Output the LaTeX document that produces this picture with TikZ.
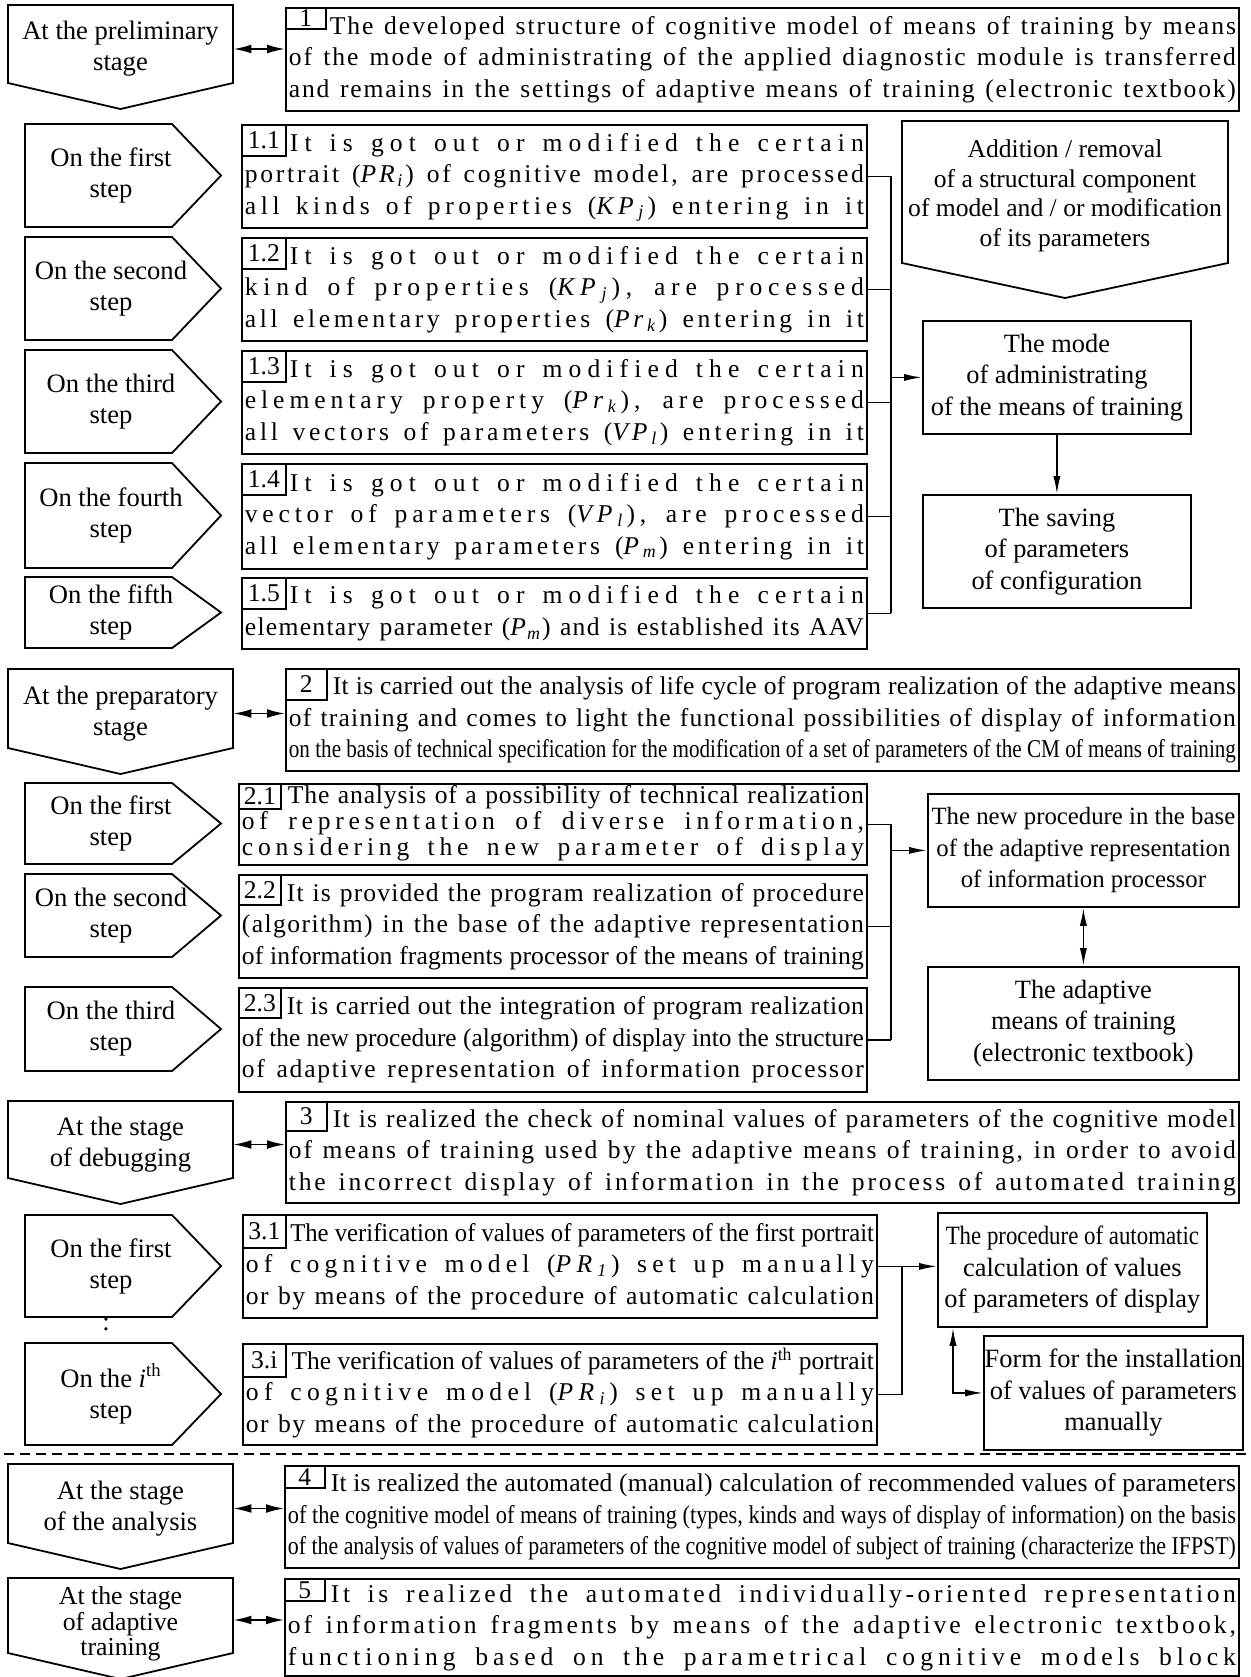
\documentclass[tikz,border=0pt]{standalone}
\usepackage{fontspec}
\setmainfont{Liberation Serif}
\usepackage{graphicx}
\usetikzlibrary{arrows.meta}

\def\stgLeft{4}
\def\stgWidth{112.5}
\def\stgTip{13}
\def\stpLeft{12.5}
\def\stpWidth{73.5}
\def\stpTip{24.5}

\newcommand\bodyfont{\fontsize{12.8}{15.75}\selectfont}
\newcommand\tightfont{\fontsize{12.8}{13}\selectfont}
\newcommand\labelfont{\fontsize{13.3}{15.5}\selectfont}
\newcommand\tightlabelfont{\fontsize{12.9}{12.9}\selectfont}
\newcommand\sidefont{\fontsize{13.2}{15.75}\selectfont}
\newcommand\smallsidefont{\fontsize{12.4}{15.75}\selectfont}

%% one line of a text box, always as wide as the box
\newsavebox\jlbox
\newlength\jlnat
\newlength\jlten
\newlength\jlavail
\newcommand\jl[1]{%
  \spaceskip=0pt\xspaceskip=0pt
  \sbox\jlbox{#1}\setlength\jlnat{\wd\jlbox}\setlength\jlavail{\hsize}%
  \ifdim\jlnat>\jlavail
    \scalebox{\fpeval{\jlavail/\jlnat}}[1]{\usebox\jlbox}%
  \else
    \sbox\jlbox{\addfontfeatures{LetterSpace=10}#1}\setlength\jlten{\wd\jlbox}%
    \edef\jlls{\fpeval{trunc(8.2*(\jlavail-\jlnat)/(\jlten-\jlnat),2)}}%
    \makebox[\jlavail][s]{\addfontfeatures{LetterSpace=\jlls}#1}%
  \fi\strut}
\newcommand\sym[2]{\textit{#1}\textsubscript{\textit{#2}}}

\tikzset{
  shapeline/.style={line width=0.9pt},
  txtbox/.style={draw, line width=0.9pt, anchor=north west, inner xsep=1.5pt,
    inner ysep=0pt, align=left, font=\bodyfont},
  numbox/.style={draw, line width=0.8pt, anchor=north west, inner sep=0pt,
    font=\bodyfont, text height=8.6pt, text depth=0pt},
  stagelabel/.style={align=center, font=\labelfont, inner sep=2pt,
    minimum width=\stgWidth pt},
  steplabel/.style={align=center, font=\labelfont, inner sep=1pt},
  sidebox/.style={draw, line width=0.9pt, anchor=north west, align=center,
    font=\sidefont, inner sep=0pt},
  wire/.style={line width=0.8pt},
  flowarrow/.style={wire, -{Latex[length=9pt,width=3.6pt]}},
  dblarrow/.style={wire, {Latex[length=9pt,width=3.6pt]}-{Latex[length=9pt,width=3.6pt]}},
  stagearrow/.style={wire, {Latex[length=9pt,width=4.4pt]}-{Latex[length=9pt,width=4.4pt]}},
  sepline/.style={line width=0.7pt, dash pattern=on 5pt off 3pt},
}

\begin{document}
\begin{tikzpicture}[x=1pt,y=-1pt]
  \useasboundingbox (0,0) rectangle (625,838.5);

  %% stages
  \foreach \nm/\y/\h/\txt in {
    s1/2.5/39/{At the preliminary\\stage},
    s2/334.5/39.5/{At the preparatory\\stage},
    s3/550.5/38.5/{At the stage\\of debugging},
    s4/732/39.5/{At the stage\\of the analysis}} {
    \draw[shapeline] (\stgLeft,\y) -- ++(\stgWidth,0) -- ++(0,\h)
      -- ++({-\stgWidth/2},\stgTip) -- ++({-\stgWidth/2},-\stgTip) -- cycle;
    \node[stagelabel] (\nm) at ({\stgLeft+\stgWidth/2},{\y+\h/2+2.5}) {\txt};
  }
  \draw[shapeline] (\stgLeft,789) -- ++(\stgWidth,0) -- ++(0,37.5)
    -- ++({-\stgWidth/2},\stgTip) -- ++({-\stgWidth/2},-\stgTip) -- cycle;
  \node[stagelabel, font=\tightlabelfont] (s5) at ({\stgLeft+\stgWidth/2},812)
    {At the stage\\of adaptive\\training};
  \coordinate (s5e) at ([yshift=2pt]s5.east);

  %% steps
  \foreach \nm/\y/\h/\txt in {
    p11/62/51.5/{On the first\\step},
    p12/118.5/51.5/{On the second\\step},
    p13/175/51.5/{On the third\\step},
    p14/231.5/52.5/{On the fourth\\step},
    p15/288.5/35.5/{On the fifth\\step},
    p21/391.5/40.5/{On the first\\step},
    p22/437/41.5/{On the second\\step},
    p23/493.5/42/{On the third\\step},
    p31/607.5/51/{On the first\\step},
    p3i/671.5/51/{On the \textit{i}\textsuperscript{th}\\step}} {
    \draw[shapeline] (\stpLeft,\y) -- ++(\stpWidth,0) -- ++(\stpTip,{\h/2})
      -- ++(-\stpTip,{\h/2}) -- ++(-\stpWidth,0) -- cycle;
    \node[steplabel] (\nm) at (55.5,{\y+\h/2}) {\txt};
  }
  \node[font=\labelfont, inner sep=0pt] (dots) at (53,662) {:};

  %% stage 1
  \node[txtbox, text width=473.5pt, minimum height=51.5pt] (t1) at (142.5,3.5) {%
    \jl{\hspace*{20.5pt}The developed structure of cognitive model of means of training by means}\\
    \jl{of the mode of administrating of the applied diagnostic module is transferred}\\
    \jl{and remains in the settings of adaptive means of training (electronic textbook)}};
  \node[numbox, minimum width=20pt, minimum height=10.5pt] (n1) at (t1.north west) {1};

  \node[txtbox, text width=309.5pt, minimum height=51.5pt] (t11) at (120.5,62) {%
    \jl{\hspace*{22.5pt}It is got out or modified the certain}\\
    \jl{portrait (\sym{PR}{i}) of cognitive model, are processed}\\
    \jl{all kinds of properties (\sym{KP}{j}) entering in it}};
  \node[txtbox, text width=309.5pt, minimum height=51.5pt] (t12) at (120.5,118.5) {%
    \jl{\hspace*{22.5pt}It is got out or modified the certain}\\
    \jl{kind of properties (\sym{KP}{j}), are processed}\\
    \jl{all elementary properties (\sym{Pr}{k}) entering in it}};
  \node[txtbox, text width=309.5pt, minimum height=51.5pt] (t13) at (120.5,175) {%
    \jl{\hspace*{22.5pt}It is got out or modified the certain}\\
    \jl{elementary property (\sym{Pr}{k}), are processed}\\
    \jl{all vectors of parameters (\sym{VP}{l}) entering in it}};
  \node[txtbox, text width=309.5pt, minimum height=52.5pt] (t14) at (120.5,231.5) {%
    \jl{\hspace*{22.5pt}It is got out or modified the certain}\\
    \jl{vector of parameters (\sym{VP}{l}), are processed}\\
    \jl{all elementary parameters (\sym{P}{m}) entering in it}};
  \node[txtbox, text width=309.5pt, minimum height=35.5pt] (t15) at (120.5,288.5) {%
    \jl{\hspace*{22.5pt}It is got out or modified the certain}\\
    \jl{elementary parameter (\sym{P}{m}) and is established its AAV}};
  \foreach \t/\n in {t11/1.1,t12/1.2,t13/1.3,t14/1.4,t15/1.5}
    \node[numbox, minimum width=22pt, minimum height=15.5pt] at (\t.north west) {\n};

  \node[sidebox, minimum width=134pt, minimum height=56.5pt] (mode) at (461,160)
    {The mode\\of administrating\\of the means of training};
  \node[sidebox, minimum width=134pt, minimum height=56.5pt] (saving) at (461,247)
    {The saving\\of parameters\\of configuration};
  \draw[shapeline] (451,60.5) -- ++(163,0) -- ++(0,71) -- ++(-81.5,17.5)
    -- ++(-81.5,-17.5) -- cycle;
  \node[align=center, font=\fontsize{12.8}{14.8}\selectfont] (addrem) at (532.5,98)
    {Addition / removal\\of a structural component\\of model and / or modification\\of its parameters};

  \coordinate (busA) at (445.5,0);
  \foreach \t in {t11,t12,t13,t14,t15}
    \draw[wire] (\t.east) -- (\t.east -| busA);
  \draw[wire] (t11.east -| busA) -- (t15.east -| busA);
  \draw[flowarrow] (mode.west -| busA) -- (mode.west);
  \draw[flowarrow] (mode.south) -- (saving.north);

  %% stage 2
  \node[txtbox, text width=473.5pt, minimum height=51pt] (t2) at (142.5,334) {%
    \jl{\hspace*{22pt}It is carried out the analysis of life cycle of program realization of the adaptive means}\\
    \jl{of training and comes to light the functional possibilities of display of information}\\
    \jl{on the basis of technical specification for the modification of a set of parameters of the CM of means of training}};
  \node[numbox, minimum width=20.5pt, minimum height=15.5pt] (n2) at (t2.north west) {2};

  \node[txtbox, font=\tightfont, text width=311pt, minimum height=40.5pt] (t21) at (119,391.5) {%
    \jl{\hspace*{23pt}The analysis of a possibility of technical realization}\\
    \jl{of representation of diverse information,}\\
    \jl{considering the new parameter of display}};
  \node[txtbox, text width=311pt, minimum height=51.5pt] (t22) at (119,437) {%
    \jl{\hspace*{22.5pt}It is provided the program realization of procedure}\\
    \jl{(algorithm) in the base of the adaptive representation}\\
    \jl{of information fragments processor of the means of training}};
  \node[txtbox, text width=311pt, minimum height=52pt] (t23) at (119,493.5) {%
    \jl{\hspace*{22.5pt}It is carried out the integration of program realization}\\
    \jl{of the new procedure (algorithm) of display into the structure}\\
    \jl{of adaptive representation of information processor}};
  \node[numbox, minimum width=21pt, minimum height=12.5pt] (n21) at (t21.north west) {2.1};
  \foreach \t/\n in {t22/2.2,t23/2.3}
    \node[numbox, minimum width=21pt, minimum height=15pt] at (\t.north west) {\n};

  \node[sidebox, font=\smallsidefont, minimum width=155.5pt, minimum height=56.5pt] (newproc)
    at (463.5,396.5) {The new procedure in the base\\of the adaptive representation\\of information processor};
  \node[sidebox, minimum width=155.5pt, minimum height=56.5pt] (adapt) at (463.5,483)
    {The adaptive\\means of training\\(electronic textbook)};

  \coordinate (busB) at (445.5,0);
  \foreach \t in {t21,t22,t23}
    \draw[wire] (\t.east) -- (\t.east -| busB);
  \draw[wire] (t21.east -| busB) -- (t23.east -| busB);
  \draw[flowarrow] (newproc.west -| busB) -- (newproc.west);
  \draw[dblarrow] (newproc.south) -- (adapt.north);

  %% stage 3
  \node[txtbox, text width=473.5pt, minimum height=50.5pt] (t3) at (142.5,550.5) {%
    \jl{\hspace*{22pt}It is realized the check of nominal values of parameters of the cognitive model}\\
    \jl{of means of training used by the adaptive means of training, in order to avoid}\\
    \jl{the incorrect display of information in the process of automated training}};
  \node[numbox, minimum width=20.5pt, minimum height=14.5pt] (n3) at (t3.north west) {3};

  \node[txtbox, text width=314pt, minimum height=51.5pt] (t31) at (121,607) {%
    \jl{\hspace*{23pt}The verification of values of parameters of the first portrait}\\
    \jl{of cognitive model (\sym{PR}{1}) set up manually}\\
    \jl{or by means of the procedure of automatic calculation}};
  \node[txtbox, text width=314pt, minimum height=50.5pt] (t3i) at (121,671.5) {%
    \jl{\hspace*{23pt}The verification of values of parameters of the \textit{i}\textsuperscript{th} portrait}\\
    \jl{of cognitive model (\sym{PR}{i}) set up manually}\\
    \jl{or by means of the procedure of automatic calculation}};
  \foreach \t/\n in {t31/3.1,t3i/3.i}
    \node[numbox, minimum width=21.5pt, minimum height=16.5pt] at (\t.north west) {\n};

  \node[sidebox, minimum width=134.5pt, minimum height=57pt] (autoproc) at (468.5,606)
    {\scalebox{0.866}[1]{The procedure of automatic}\\calculation of values\\of parameters of display};
  \node[sidebox, minimum width=129.5pt, minimum height=57pt] (manform) at (491.5,667.5)
    {Form for the installation\\of values of parameters\\manually};

  \coordinate (busC) at (451,0);
  \draw[flowarrow] (t31.east) -- (autoproc.west |- t31.east);
  \draw[wire] (t3i.east) -| (busC |- t31.east);
  \draw[dblarrow] ([xshift=8pt]autoproc.south west) |- (manform.west);

  %% separator
  \draw[sepline] (2,727) -- (623,727);

  %% stages 4 and 5
  \node[txtbox, text width=474pt, minimum height=51pt] (t4) at (142,732.5) {%
    \jl{\hspace*{21.5pt}It is realized the automated (manual) calculation of recommended values of parameters}\\
    \jl{of the cognitive model of means of training (types, kinds and ways of display of information) on the basis}\\
    \jl{of the analysis of values of parameters of the cognitive model of subject of training (characterize the IFPST)}};
  \node[numbox, minimum width=20pt, minimum height=11pt] (n4) at (t4.north west) {4};

  \node[txtbox, text width=474pt, minimum height=48.5pt] (t5) at (142,789) {%
    \jl{\hspace*{21.5pt}It is realized the automated individually-oriented representation}\\
    \jl{of information fragments by means of the adaptive electronic textbook,}\\
    \jl{functioning based on the parametrical cognitive models block}};
  \node[numbox, minimum width=20pt, minimum height=11pt] (n5) at (t5.north west) {5};

  \foreach \s/\t in {s1/t1,s2/t2,s3/t3,s4/t4}
    \draw[stagearrow] (\s.east) -- (\t.west |- \s.east);
  \draw[stagearrow] (s5e) -- (t5.west |- s5e);
\end{tikzpicture}
\end{document}
